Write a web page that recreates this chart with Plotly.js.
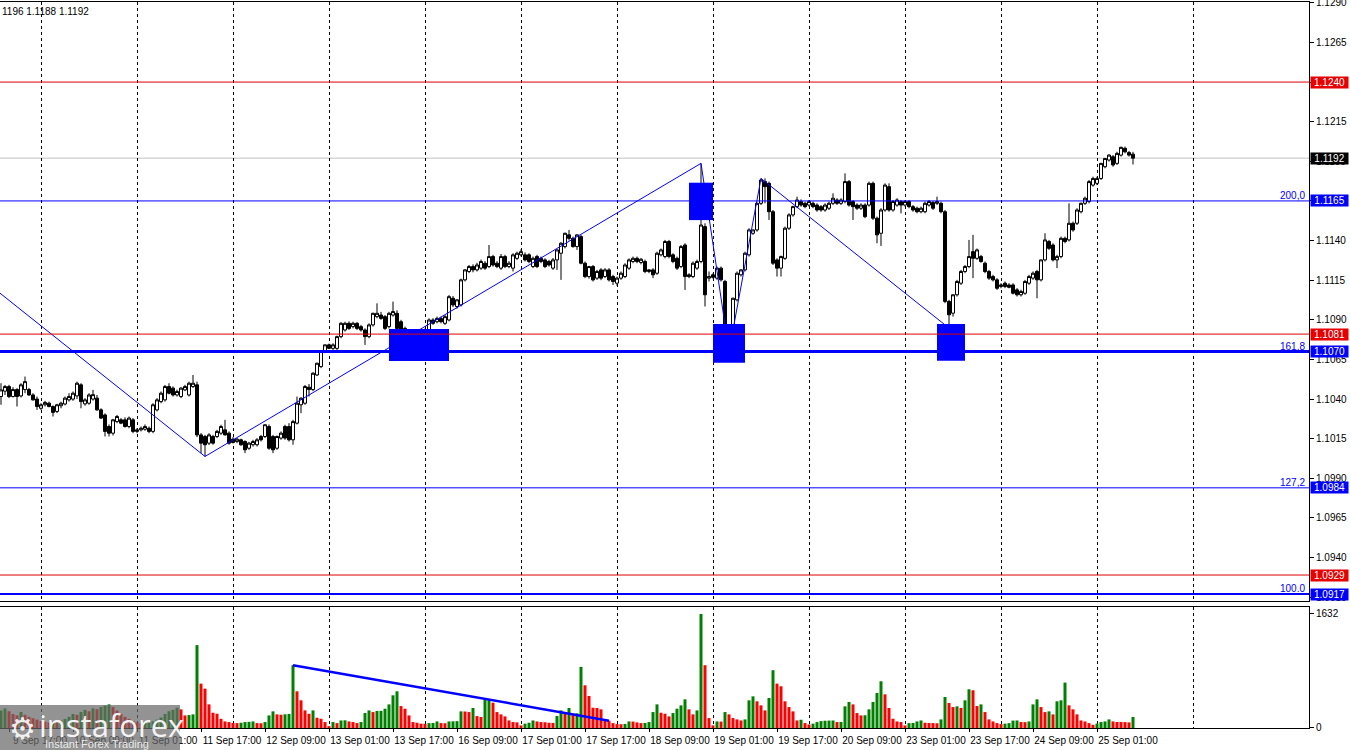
<!DOCTYPE html>
<html><head><meta charset="utf-8">
<script src="https://cdn.plot.ly/plotly-3.0.1.min.js"></script>
<style>html,body{margin:0;padding:0;background:#fff}#chart{width:1350px;height:750px}</style>
</head><body><div id="chart"></div>
<script>
// EURUSD H1, 9 Sep 15:00 .. 25 Sep 10:00 (bar index = position on the chart)
const openP = [
1.10416,1.10450,1.10479,1.10416,1.10460,1.10420,1.10460,1.10460,1.10426,1.10400,
1.10342,1.10364,1.10374,1.10353,1.10322,1.10358,1.10369,1.10395,1.10400,1.10420,
1.10490,1.10370,1.10374,1.10400,1.10406,1.10332,1.10300,1.10227,1.10185,1.10258,
1.10269,1.10269,1.10227,1.10269,1.10196,1.10206,1.10210,1.10216,1.10196,1.10332,
1.10384,1.10395,1.10479,1.10469,1.10426,1.10416,1.10458,1.10426,1.10479,1.10490,
1.10174,1.10164,1.10122,1.10164,1.10164,1.10185,1.10206,1.10185,1.10147,1.10132,
1.10143,1.10132,1.10090,1.10112,1.10112,1.10164,1.10164,1.10227,1.10164,1.10090,
1.10154,1.10227,1.10227,1.10143,1.10248,1.10364,1.10374,1.10475,1.10460,1.10552,
1.10605,1.10700,1.10742,1.10720,1.10720,1.10794,1.10836,1.10878,1.10857,1.10878,
1.10857,1.10836,1.10794,1.10868,1.10920,1.10930,1.10920,1.10857,1.10930,1.10941,
1.10888,1.10846,1.10826,1.10815,1.10794,1.10794,1.10773,1.10836,1.10899,1.10888,
1.10909,1.10878,1.10899,1.11036,1.10984,1.10994,1.11152,1.11205,1.11236,1.11215,
1.11226,1.11257,1.11236,1.11299,1.11257,1.11226,1.11299,1.11236,1.11226,1.11288,
1.11310,1.11310,1.11310,1.11236,1.11299,1.11288,1.11278,1.11268,1.11226,1.11278,
1.11320,1.11362,1.11436,1.11414,1.11362,1.11425,1.11257,1.11173,1.11236,1.11163,
1.11215,1.11173,1.11215,1.11173,1.11131,1.11163,1.11173,1.11226,1.11268,1.11288,
1.11262,1.11268,1.11205,1.11215,1.11194,1.11310,1.11299,1.11394,1.11310,1.11288,
1.11236,1.11372,1.11184,1.11173,1.11226,1.11268,1.11488,1.11163,1.11184,1.11163,
1.11226,1.11142,1.10816,1.10837,1.11026,1.11184,1.11215,1.11310,1.11446,1.11467,
1.11635,1.11772,1.11761,1.11582,1.11278,1.11226,1.11288,1.11478,1.11562,1.11614,
1.11646,1.11635,1.11624,1.11635,1.11624,1.11614,1.11593,1.11604,1.11635,1.11656,
1.11635,1.11646,1.11772,1.11646,1.11624,1.11604,1.11624,1.11624,1.11761,1.11541,
1.11446,1.11593,1.11740,1.11593,1.11624,1.11646,1.11624,1.11646,1.11614,1.11604,
1.11582,1.11582,1.11624,1.11640,1.11635,1.11635,1.11582,1.11016,1.10942,1.11058,
1.11131,1.11205,1.11236,1.11330,1.11288,1.11299,1.11257,1.11205,1.11173,1.11152,
1.11110,1.11131,1.11120,1.11120,1.11089,1.11058,1.11068,1.11131,1.11163,1.11205,
1.11152,1.11278,1.11394,1.11372,1.11278,1.11299,1.11414,1.11404,1.11509,1.11509,
1.11582,1.11635,1.11646,1.11750,1.11761,1.11792,1.11866,1.11908,1.11929,1.11887,
1.11939,1.11982,1.11955,1.11945];
const highP = [
1.10500,1.10489,1.10490,1.10475,1.10469,1.10500,1.10542,1.10470,1.10437,1.10416,
1.10374,1.10389,1.10384,1.10360,1.10370,1.10384,1.10416,1.10437,1.10448,1.10510,
1.10500,1.10406,1.10437,1.10458,1.10426,1.10342,1.10310,1.10240,1.10275,1.10300,
1.10280,1.10285,1.10290,1.10280,1.10216,1.10227,1.10240,1.10227,1.10374,1.10406,
1.10448,1.10489,1.10500,1.10480,1.10460,1.10475,1.10490,1.10510,1.10552,1.10510,
1.10185,1.10174,1.10185,1.10174,1.10206,1.10238,1.10269,1.10196,1.10160,1.10154,
1.10150,1.10140,1.10130,1.10143,1.10154,1.10174,1.10240,1.10240,1.10174,1.10170,
1.10196,1.10238,1.10248,1.10269,1.10416,1.10410,1.10489,1.10495,1.10570,1.10630,
1.10705,1.10745,1.10750,1.10752,1.10800,1.10885,1.10888,1.10890,1.10888,1.10885,
1.10868,1.10846,1.10878,1.10945,1.11004,1.10950,1.10930,1.10950,1.11015,1.10960,
1.10900,1.10857,1.10836,1.10826,1.10804,1.10800,1.10846,1.10909,1.10910,1.10920,
1.10920,1.10930,1.11056,1.11050,1.11030,1.11160,1.11220,1.11246,1.11250,1.11260,
1.11280,1.11270,1.11372,1.11310,1.11270,1.11315,1.11310,1.11270,1.11320,1.11330,
1.11345,1.11325,1.11320,1.11299,1.11310,1.11299,1.11288,1.11278,1.11290,1.11345,
1.11390,1.11450,1.11467,1.11425,1.11440,1.11436,1.11268,1.11240,1.11246,1.11215,
1.11226,1.11226,1.11226,1.11184,1.11173,1.11205,1.11257,1.11288,1.11299,1.11299,
1.11290,1.11280,1.11220,1.11226,1.11330,1.11350,1.11404,1.11404,1.11320,1.11299,
1.11372,1.11383,1.11194,1.11268,1.11280,1.11887,1.11509,1.11205,1.11194,1.11236,
1.11236,1.11152,1.10850,1.11040,1.11205,1.11220,1.11330,1.11478,1.11470,1.11640,
1.11792,1.11792,1.11772,1.11593,1.11288,1.11305,1.11488,1.11572,1.11620,1.11677,
1.11660,1.11646,1.11656,1.11646,1.11635,1.11624,1.11635,1.11646,1.11698,1.11667,
1.11667,1.11824,1.11782,1.11656,1.11635,1.11635,1.11635,1.11772,1.11772,1.11551,
1.11604,1.11761,1.11761,1.11656,1.11667,1.11656,1.11656,1.11656,1.11624,1.11614,
1.11614,1.11646,1.11656,1.11650,1.11677,1.11646,1.11593,1.11026,1.11060,1.11152,
1.11215,1.11246,1.11404,1.11436,1.11350,1.11310,1.11268,1.11215,1.11184,1.11163,
1.11131,1.11142,1.11131,1.11131,1.11100,1.11090,1.11152,1.11184,1.11205,1.11215,
1.11280,1.11446,1.11404,1.11383,1.11310,1.11425,1.11425,1.11635,1.11520,1.11604,
1.11640,1.11677,1.11782,1.11803,1.11803,1.11890,1.11920,1.11945,1.11940,1.11960,
1.11993,1.11993,1.11965,1.11960];
const lowP = [
1.10364,1.10426,1.10406,1.10410,1.10353,1.10410,1.10437,1.10420,1.10390,1.10332,
1.10330,1.10353,1.10348,1.10290,1.10311,1.10342,1.10360,1.10384,1.10389,1.10400,
1.10342,1.10358,1.10364,1.10390,1.10326,1.10274,1.10164,1.10164,1.10170,1.10248,
1.10242,1.10220,1.10216,1.10185,1.10185,1.10196,1.10200,1.10185,1.10185,1.10322,
1.10374,1.10384,1.10430,1.10416,1.10416,1.10406,1.10450,1.10416,1.10470,1.10160,
1.10059,1.10038,1.10110,1.10112,1.10154,1.10174,1.10170,1.10112,1.10120,1.10122,
1.10105,1.10059,1.10080,1.10100,1.10101,1.10132,1.10154,1.10080,1.10059,1.10080,
1.10143,1.10143,1.10132,1.10112,1.10240,1.10311,1.10364,1.10416,1.10450,1.10545,
1.10595,1.10690,1.10715,1.10710,1.10710,1.10784,1.10826,1.10836,1.10846,1.10836,
1.10826,1.10742,1.10784,1.10857,1.10910,1.10900,1.10836,1.10846,1.10920,1.10836,
1.10826,1.10752,1.10784,1.10773,1.10763,1.10731,1.10763,1.10826,1.10868,1.10878,
1.10878,1.10868,1.10890,1.10980,1.10970,1.10984,1.11142,1.11194,1.11200,1.11205,
1.11215,1.11215,1.11226,1.11236,1.11226,1.11215,1.11226,1.11226,1.11205,1.11278,
1.11300,1.11268,1.11257,1.11226,1.11226,1.11257,1.11226,1.11236,1.11215,1.11215,
1.11152,1.11351,1.11400,1.11355,1.11341,1.11250,1.11163,1.11160,1.11142,1.11152,
1.11150,1.11163,1.11142,1.11120,1.11115,1.11152,1.11163,1.11215,1.11257,1.11257,
1.11250,1.11194,1.11194,1.11163,1.11184,1.11300,1.11288,1.11288,1.11257,1.11215,
1.11226,1.11089,1.11163,1.11163,1.11215,1.11257,1.10984,1.11142,1.11160,1.11152,
1.11142,1.10810,1.10700,1.10827,1.11016,1.11173,1.11205,1.11299,1.11436,1.11456,
1.11624,1.11635,1.11530,1.11246,1.11173,1.11173,1.11278,1.11467,1.11551,1.11604,
1.11614,1.11604,1.11614,1.11604,1.11582,1.11582,1.11582,1.11593,1.11624,1.11624,
1.11624,1.11635,1.11614,1.11530,1.11593,1.11593,1.11541,1.11614,1.11530,1.11383,
1.11366,1.11582,1.11582,1.11582,1.11614,1.11572,1.11614,1.11604,1.11582,1.11572,
1.11572,1.11572,1.11614,1.11593,1.11624,1.11572,1.11005,1.10848,1.10920,1.11047,
1.11120,1.11194,1.11226,1.11163,1.11278,1.11260,1.11194,1.11152,1.11142,1.11089,
1.11099,1.11100,1.11099,1.11060,1.11047,1.11047,1.11058,1.11120,1.11152,1.11036,
1.11142,1.11268,1.11341,1.11268,1.11226,1.11288,1.11383,1.11394,1.11456,1.11498,
1.11572,1.11624,1.11635,1.11740,1.11750,1.11782,1.11856,1.11898,1.11866,1.11877,
1.11930,1.11950,1.11930,1.11880];
const closeP = [
1.10458,1.10479,1.10416,1.10460,1.10416,1.10490,1.10510,1.10426,1.10395,1.10353,
1.10364,1.10379,1.10353,1.10316,1.10364,1.10374,1.10406,1.10416,1.10437,1.10500,
1.10384,1.10395,1.10426,1.10428,1.10332,1.10280,1.10196,1.10185,1.10269,1.10290,
1.10248,1.10227,1.10280,1.10196,1.10206,1.10216,1.10227,1.10196,1.10364,1.10395,
1.10437,1.10479,1.10437,1.10426,1.10448,1.10469,1.10479,1.10500,1.10500,1.10174,
1.10122,1.10112,1.10174,1.10122,1.10196,1.10227,1.10174,1.10122,1.10126,1.10147,
1.10112,1.10080,1.10122,1.10132,1.10143,1.10143,1.10238,1.10090,1.10080,1.10164,
1.10185,1.10154,1.10143,1.10258,1.10374,1.10406,1.10479,1.10460,1.10563,1.10626,
1.10700,1.10742,1.10720,1.10742,1.10794,1.10878,1.10878,1.10846,1.10878,1.10846,
1.10836,1.10794,1.10868,1.10941,1.10941,1.10909,1.10846,1.10941,1.10952,1.10846,
1.10836,1.10804,1.10794,1.10784,1.10773,1.10742,1.10836,1.10899,1.10878,1.10909,
1.10888,1.10920,1.11046,1.10994,1.11026,1.11152,1.11215,1.11236,1.11215,1.11246,
1.11268,1.11226,1.11299,1.11246,1.11236,1.11299,1.11236,1.11257,1.11310,1.11320,
1.11330,1.11278,1.11268,1.11288,1.11236,1.11268,1.11236,1.11246,1.11278,1.11341,
1.11383,1.11446,1.11414,1.11362,1.11436,1.11257,1.11173,1.11236,1.11152,1.11205,
1.11163,1.11215,1.11152,1.11142,1.11163,1.11194,1.11246,1.11278,1.11288,1.11268,
1.11282,1.11205,1.11215,1.11184,1.11320,1.11341,1.11394,1.11299,1.11268,1.11226,
1.11362,1.11173,1.11173,1.11257,1.11268,1.11498,1.11058,1.11173,1.11168,1.11226,
1.11152,1.10816,1.10848,1.11036,1.11194,1.11215,1.11320,1.11467,1.11467,1.11635,
1.11782,1.11740,1.11582,1.11257,1.11226,1.11299,1.11478,1.11562,1.11614,1.11656,
1.11624,1.11614,1.11646,1.11614,1.11593,1.11593,1.11624,1.11635,1.11667,1.11635,
1.11656,1.11772,1.11624,1.11614,1.11604,1.11624,1.11551,1.11761,1.11541,1.11436,
1.11593,1.11750,1.11593,1.11646,1.11656,1.11624,1.11646,1.11614,1.11593,1.11582,
1.11604,1.11635,1.11646,1.11604,1.11646,1.11582,1.11016,1.10932,1.11058,1.11142,
1.11205,1.11236,1.11299,1.11288,1.11341,1.11268,1.11205,1.11163,1.11152,1.11099,
1.11120,1.11110,1.11105,1.11068,1.11058,1.11079,1.11142,1.11173,1.11194,1.11152,
1.11278,1.11404,1.11351,1.11278,1.11299,1.11414,1.11394,1.11509,1.11467,1.11593,
1.11635,1.11667,1.11772,1.11792,1.11792,1.11887,1.11918,1.11939,1.11877,1.11950,
1.11988,1.11960,1.11939,1.11920];
const volume = [
250,280,240,200,180,230,190,160,140,120,
100,90,80,95,85,110,130,160,200,190,
230,260,240,280,270,300,320,338,300,250,
200,160,130,100,80,70,75,85,95,120,
150,200,240,260,290,267,180,185,195,1186,
635,563,338,219,204,132,94,85,72,70,
75,85,88,94,70,68,85,180,238,195,
190,196,200,899,525,396,252,204,252,147,
132,85,27,85,70,108,110,94,85,70,
85,214,252,228,243,245,276,338,468,525,
314,276,180,85,75,62,60,70,72,94,
70,68,94,96,98,238,236,228,286,171,
157,400,405,362,228,195,166,108,85,80,
37,62,75,108,94,85,82,75,73,171,
252,204,286,204,210,875,611,458,290,286,
267,108,105,70,56,54,58,94,92,80,
70,72,85,228,338,219,204,166,214,276,
324,410,267,195,252,1632,899,142,37,94,
92,228,195,142,123,108,123,396,453,382,
324,252,429,827,635,597,382,300,238,108,
118,70,51,62,85,99,104,106,108,85,
87,310,372,338,214,180,182,267,372,501,
669,482,286,132,94,85,37,70,72,94,
108,75,72,70,68,123,444,358,300,310,
286,396,554,540,314,338,228,123,94,70,
56,62,70,106,108,85,83,94,338,410,
300,228,238,195,382,396,650,324,267,195,
108,94,70,46,62,85,94,123,94,86,
85,84,80,157];
const tickLabels = ['9 Sep 17:00','10 Sep 09:00','11 Sep 01:00','11 Sep 17:00','12 Sep 09:00','13 Sep 01:00',
  '13 Sep 17:00','16 Sep 09:00','17 Sep 01:00','17 Sep 17:00','18 Sep 09:00','19 Sep 01:00','19 Sep 17:00',
  '20 Sep 09:00','23 Sep 01:00','23 Sep 17:00','24 Sep 09:00','25 Sep 01:00'];
const tickBars = [2,18,34,50,66,82,98,114,130,146,162,178,194,210,226,242,258,274];
const redLevels = [1.1240, 1.1081, 1.0929];
const fibLevels = [1.1165, 1.1070, 1.0984, 1.0917];
const fibLabels = ['200,0', '161.8', '127,2', '100.0'];
const zigzagBars = [-10, 51, 175, 182, 190, 237];
const zigzagPrices = [1.11264, 1.10038, 1.11887, 1.10700, 1.11792, 1.10848];
const volZigzagBars = [73, 152];
const volZigzagValues = [899, 105];
const zoneFrom = [97, 172, 178, 234];
const zoneTo = [112, 178, 186, 241];
const zoneHigh = [1.10842, 1.11765, 1.10873, 1.10873];
const zoneLow = [1.10640, 1.11529, 1.10629, 1.10642];
const volTicks = [0, 1632];
const headerText = '1196 1.1188 1.1192';

// ---------- styling ----------
const FONT = 'Liberation Sans, Arial, sans-serif';
const BLUE = '#0000ff', RED = '#dd0000', GREEN = '#008000', VRED = '#ff0000';
const fibWidths = [1, 3, 1, 2];
const bars = closeP.map((_, i) => i);
const lastClose = closeP[closeP.length - 1];
const volColors = volume.map((v, i) => (i === 0 || v > volume[i - 1]) ? GREEN : VRED);
// vertical grid: one line every 24 bars (day), as the terminal draws it
const gridBars = [];
for (let g = 10; g <= 300; g += 24) gridBars.push(g);

const traces = [];
traces.push({type: 'scatter', mode: 'lines', x: zigzagBars, y: zigzagPrices,
  line: {color: BLUE, width: 1}, xaxis: 'x', yaxis: 'y', hoverinfo: 'skip'});
zoneFrom.forEach((f, k) => {
  traces.push({type: 'scatter', mode: 'lines', fill: 'toself', fillcolor: BLUE,
    x: [f, zoneTo[k], zoneTo[k], f, f], y: [zoneLow[k], zoneLow[k], zoneHigh[k], zoneHigh[k], zoneLow[k]],
    line: {color: BLUE, width: 0}, xaxis: 'x', yaxis: 'y', hoverinfo: 'skip'});
});
traces.push({type: 'candlestick', x: bars, open: openP, high: highP, low: lowP, close: closeP,
  increasing: {line: {color: '#000', width: 1}, fillcolor: '#fff'},
  decreasing: {line: {color: '#000', width: 1}, fillcolor: '#000'},
  whiskerwidth: 0, xaxis: 'x', yaxis: 'y', hoverinfo: 'skip'});
traces.push({type: 'bar', x: bars, y: volume, width: 0.75, marker: {color: volColors, line: {width: 0}},
  xaxis: 'x2', yaxis: 'y2', hoverinfo: 'skip'});
traces.push({type: 'scatter', mode: 'lines', x: volZigzagBars, y: volZigzagValues,
  line: {color: BLUE, width: 2.5}, xaxis: 'x2', yaxis: 'y2', hoverinfo: 'skip'});

const shapes = [];
redLevels.forEach(l => shapes.push({type: 'line', xref: 'x domain', yref: 'y', x0: 0, x1: 1, y0: l, y1: l,
  line: {color: RED, width: 1}}));
fibLevels.forEach((l, k) => shapes.push({type: 'line', xref: 'x domain', yref: 'y', x0: 0, x1: 1, y0: l, y1: l,
  line: {color: BLUE, width: fibWidths[k]}}));
shapes.push({type: 'line', xref: 'x domain', yref: 'y', x0: 0, x1: 1, y0: lastClose, y1: lastClose,
  line: {color: '#c0c0c0', width: 1}, layer: 'below'});
// watermark
shapes.push({type: 'rect', xref: 'paper', yref: 'paper', x0: 0, x1: 0.1375, y0: -0.031, y1: 0.0317,
  fillcolor: 'rgba(105,105,105,0.72)', line: {width: 0}});

const annotations = [];
function tag(val, bg) {
  annotations.push({xref: 'paper', x: 1, xanchor: 'left', xshift: 1, yref: 'y', y: val, yanchor: 'middle',
    text: val.toFixed(4), showarrow: false, bgcolor: bg, width: 37, height: 11, borderpad: 0,
    font: {family: FONT, size: 10, color: '#fff'}});
}
redLevels.forEach(l => tag(l, '#e60000'));
fibLevels.forEach(l => tag(l, BLUE));
tag(lastClose, '#000');
fibLevels.forEach((l, k) => annotations.push({xref: 'paper', x: 1, xanchor: 'right', xshift: -2,
  yref: 'y', y: l, yanchor: 'bottom', yshift: -2, text: fibLabels[k], showarrow: false,
  font: {family: FONT, size: 10, color: BLUE}}));
annotations.push({xref: 'paper', yref: 'paper', x: 0, y: 1, xanchor: 'left', yanchor: 'top', yshift: -2,
  text: headerText, showarrow: false, font: {family: FONT, size: 10, color: '#000'}});
annotations.push({xref: 'paper', yref: 'paper', x: 0.017, y: 0.0, xanchor: 'center', yanchor: 'middle',
  text: '⚙', showarrow: false, font: {family: 'DejaVu Sans', size: 30, color: 'rgba(255,255,255,0.9)'}});
annotations.push({xref: 'paper', yref: 'paper', x: 0.085, y: 0.004, xanchor: 'center', yanchor: 'middle',
  text: 'instaforex', showarrow: false, font: {family: 'Open Sans, Lato, sans-serif', size: 31, color: 'rgba(255,255,255,0.92)'}});
annotations.push({xref: 'paper', yref: 'paper', x: 0.074, y: -0.022, xanchor: 'center', yanchor: 'middle',
  text: 'Instant Forex Trading', showarrow: false, font: {family: FONT, size: 11, color: 'rgba(240,240,240,0.95)'}});

const gridDash = '3px,3px';
const layout = {
  width: 1350, height: 750, margin: {l: 0, r: 41, t: 2, b: 22},
  paper_bgcolor: '#fff', plot_bgcolor: '#fff', showlegend: false, hovermode: false,
  boxgap: 0.25, boxgroupgap: 0,
  font: {family: FONT, size: 10, color: '#000'},
  xaxis: {domain: [0, 1], anchor: 'y', range: [-0.25, 327], showticklabels: false, ticks: '',
    tickmode: 'array', tickvals: gridBars, showgrid: true, gridcolor: '#000', griddash: gridDash, gridwidth: 1,
    showline: true, mirror: true, linecolor: '#000', linewidth: 1, zeroline: false,
    rangeslider: {visible: false}, fixedrange: true},
  yaxis: {domain: [0.1749, 1], anchor: 'x', range: [1.09126, 1.12905], side: 'right',
    tickmode: 'linear', tick0: 1.0915, dtick: 0.0025, tickformat: '.4f', ticklabeloverflow: 'allow',
    ticks: 'outside', ticklen: 4, tickcolor: '#000', showgrid: false, zeroline: false,
    showline: true, linecolor: '#000', linewidth: 1, tickfont: {family: FONT, size: 10, color: '#000'}, fixedrange: true},
  xaxis2: {domain: [0, 1], anchor: 'y2', matches: 'x', range: [-0.25, 327],
    tickmode: 'array', tickvals: tickBars, ticktext: tickLabels, ticks: 'outside', ticklen: 3, tickcolor: '#000',
    ticklabelshift: 31, showgrid: false, zeroline: false, ticklabeloverflow: 'allow',
    minor: {tickmode: 'array', tickvals: gridBars, showgrid: true, gridcolor: '#000', griddash: gridDash, gridwidth: 1, ticks: ''},
    showline: true, mirror: true, linecolor: '#000', linewidth: 1,
    tickfont: {family: FONT, size: 10, color: '#000'}, fixedrange: true},
  yaxis2: {domain: [0, 0.1667], anchor: 'x2', range: [0, 1732], side: 'right',
    tickmode: 'array', tickvals: volTicks, ticktext: volTicks.map(String), ticklabeloverflow: 'allow',
    ticks: 'outside', ticklen: 4, tickcolor: '#000', showgrid: false, zeroline: false,
    showline: true, linecolor: '#000', linewidth: 1, tickfont: {family: FONT, size: 10, color: '#000'}, fixedrange: true},
  shapes: shapes, annotations: annotations
};
Plotly.newPlot('chart', traces, layout, {staticPlot: true, displayModeBar: false});
</script></body></html>
